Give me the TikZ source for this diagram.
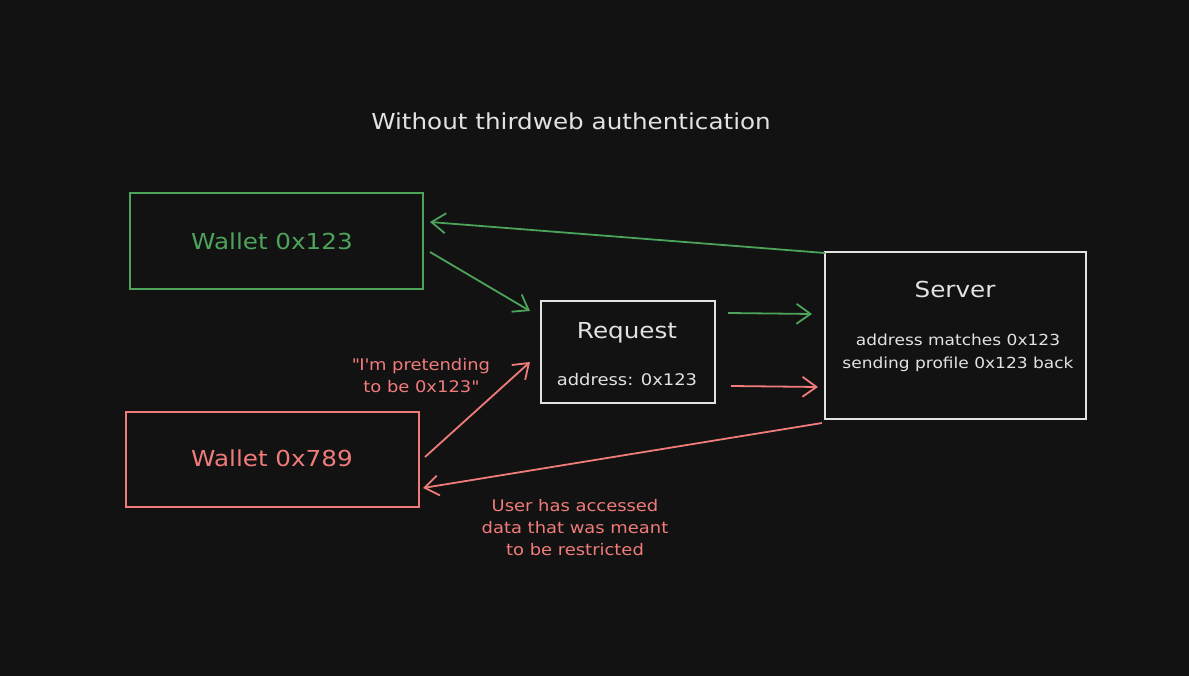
\documentclass[tikz,border=0pt]{standalone}
\usepackage{fontspec}
\setmainfont{DejaVu Sans}[FakeStretch=1.12]
\usetikzlibrary{arrows.meta}
\definecolor{bg}{HTML}{121212}
\definecolor{gr}{HTML}{4CA35A}
\definecolor{rd}{HTML}{F07C7A}
\definecolor{wh}{HTML}{E2E2E2}
\tikzset{
  box/.style={draw, line width=1.7pt, fill=bg, inner sep=0pt},
  arr/.style={line width=1.8pt, -{Straight Barb[length=14pt,width=20pt,line width=1.8pt]}},
  big/.style={font=\fontsize{22}{26}\selectfont},
  small/.style={font=\fontsize{16}{22}\selectfont, align=center},
}
\begin{document}
\begin{tikzpicture}[x=1pt,y=-1pt]
\fill[bg] (0,0) rectangle (1189,676);
\useasboundingbox (0,0) rectangle (1189,676);
% boxes
\node[box, draw=gr, minimum width=293pt, minimum height=96pt] (w1) at (276.5,241) {};
\node[box, draw=rd, minimum width=293pt, minimum height=95pt] (w2) at (272.5,459.5) {};
\node[box, draw=wh, minimum width=174pt, minimum height=102pt] (req) at (628,352) {};
\node[box, draw=wh, minimum width=261pt, minimum height=167pt] (srv) at (955.5,335.5) {};
% texts
\node[big, text=gr] (t1) at (272,241) {Wallet 0x123};
\node[big, text=rd] (t2) at (272,458) {Wallet 0x789};
\node[big, text=wh] (treq) at (627,333) {Request};
\node[small, text=wh] (treq2) at (627,380) {address: 0x123};
\node[big, text=wh] (tsrv) at (955,289) {Server};
\node[small, text=wh, font=\fontsize{15.2}{23}\selectfont] (tsrv2) at (958,353) {address matches 0x123\\sending profile 0x123 back};
\node[text=wh, font=\fontsize{22}{24}\selectfont] (title) at (571,121) {Without thirdweb authentication};
\node[small, text=rd] (lab1) at (421,376) {\textquotedbl I\textquotesingle m pretending\\to be 0x123\textquotedbl};
\node[small, text=rd] (lab2) at (575,528) {User has accessed\\data that was meant\\to be restricted};
% connector end points
\coordinate (a1s) at (825,253); \coordinate (a1e) at (430,222);
\coordinate (a2s) at (430,252); \coordinate (a2e) at (530,311);
\coordinate (a3s) at (728,313); \coordinate (a3e) at (812,314);
\coordinate (a4s) at (731,386); \coordinate (a4e) at (818,387);
\coordinate (a5s) at (425,457); \coordinate (a5e) at (530,362);
\coordinate (a6s) at (822,423); \coordinate (a6e) at (423,488);
\draw[arr, gr] (a1s) -- (a1e);
\draw[arr, gr] (a2s) -- (a2e);
\draw[arr, gr] (a3s) -- (a3e);
\draw[arr, rd] (a4s) -- (a4e);
\draw[arr, rd] (a5s) -- (a5e);
\draw[arr, rd] (a6s) -- (a6e);
\end{tikzpicture}
\end{document}
